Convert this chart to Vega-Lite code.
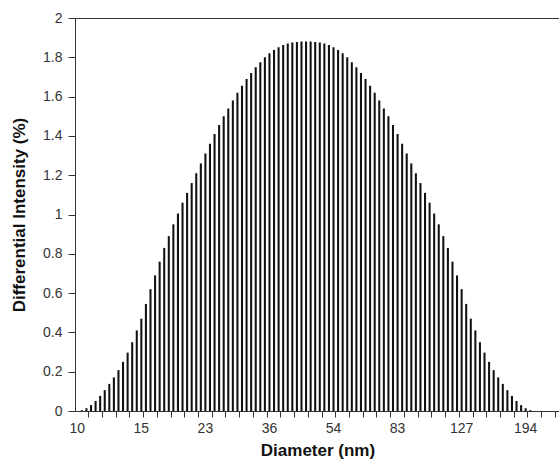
{
  "$schema": "https://vega.github.io/schema/vega-lite/v6.json",
  "width": 485,
  "height": 393,
  "autosize": "none",
  "padding": {"left": 75, "top": 18, "right": 0, "bottom": 54},
  "background": "white",
  "config": {
    "view": {"stroke": "#333333", "strokeWidth": 1},
    "font": "Liberation Sans",
    "axis": {
      "grid": false,
      "labelFont": "Liberation Sans",
      "titleFont": "Liberation Sans",
      "domainColor": "#333333",
      "tickColor": "#333333",
      "labelColor": "#333333",
      "titleColor": "#111111",
      "labelFontSize": 14,
      "titleFontSize": 17,
      "titleFontWeight": "bold"
    }
  },
  "data": {
    "values": [
      {"diameter": 10, "intensity": 0},
      {"diameter": 10.3, "intensity": 0.004},
      {"diameter": 10.6, "intensity": 0.014},
      {"diameter": 11.0, "intensity": 0.030},
      {"diameter": 11.3, "intensity": 0.051},
      {"diameter": 11.6, "intensity": 0.077},
      {"diameter": 12.0, "intensity": 0.106},
      {"diameter": 12.4, "intensity": 0.138},
      {"diameter": 12.7, "intensity": 0.171},
      {"diameter": 13.1, "intensity": 0.208},
      {"diameter": 13.5, "intensity": 0.250},
      {"diameter": 13.9, "intensity": 0.297},
      {"diameter": 14.4, "intensity": 0.350},
      {"diameter": 14.8, "intensity": 0.410},
      {"diameter": 15.3, "intensity": 0.470},
      {"diameter": 15.7, "intensity": 0.545},
      {"diameter": 16.2, "intensity": 0.620},
      {"diameter": 16.7, "intensity": 0.690},
      {"diameter": 17.2, "intensity": 0.760},
      {"diameter": 17.8, "intensity": 0.830},
      {"diameter": 18.3, "intensity": 0.890},
      {"diameter": 18.9, "intensity": 0.950},
      {"diameter": 19.5, "intensity": 1.005},
      {"diameter": 20.1, "intensity": 1.060},
      {"diameter": 20.7, "intensity": 1.110},
      {"diameter": 21.3, "intensity": 1.160},
      {"diameter": 22.0, "intensity": 1.210},
      {"diameter": 22.6, "intensity": 1.260},
      {"diameter": 23.3, "intensity": 1.310},
      {"diameter": 24.0, "intensity": 1.360},
      {"diameter": 24.8, "intensity": 1.410},
      {"diameter": 25.5, "intensity": 1.455},
      {"diameter": 26.3, "intensity": 1.500},
      {"diameter": 27.1, "intensity": 1.540},
      {"diameter": 28.0, "intensity": 1.580},
      {"diameter": 28.8, "intensity": 1.620},
      {"diameter": 29.7, "intensity": 1.655},
      {"diameter": 30.6, "intensity": 1.690},
      {"diameter": 31.6, "intensity": 1.720},
      {"diameter": 32.5, "intensity": 1.750},
      {"diameter": 33.5, "intensity": 1.775},
      {"diameter": 34.6, "intensity": 1.800},
      {"diameter": 35.6, "intensity": 1.820},
      {"diameter": 36.7, "intensity": 1.837},
      {"diameter": 37.9, "intensity": 1.851},
      {"diameter": 39.0, "intensity": 1.862},
      {"diameter": 40.2, "intensity": 1.870},
      {"diameter": 41.5, "intensity": 1.875},
      {"diameter": 42.7, "intensity": 1.878},
      {"diameter": 44.0, "intensity": 1.880},
      {"diameter": 45.4, "intensity": 1.881},
      {"diameter": 46.8, "intensity": 1.880},
      {"diameter": 48.2, "intensity": 1.878},
      {"diameter": 49.7, "intensity": 1.875},
      {"diameter": 51.2, "intensity": 1.870},
      {"diameter": 52.8, "intensity": 1.862},
      {"diameter": 54.4, "intensity": 1.851},
      {"diameter": 56.1, "intensity": 1.837},
      {"diameter": 57.8, "intensity": 1.820},
      {"diameter": 59.6, "intensity": 1.800},
      {"diameter": 61.4, "intensity": 1.775},
      {"diameter": 63.3, "intensity": 1.750},
      {"diameter": 65.3, "intensity": 1.720},
      {"diameter": 67.3, "intensity": 1.690},
      {"diameter": 69.3, "intensity": 1.655},
      {"diameter": 71.5, "intensity": 1.620},
      {"diameter": 73.7, "intensity": 1.580},
      {"diameter": 75.9, "intensity": 1.540},
      {"diameter": 78.3, "intensity": 1.500},
      {"diameter": 80.7, "intensity": 1.455},
      {"diameter": 83.1, "intensity": 1.410},
      {"diameter": 85.7, "intensity": 1.360},
      {"diameter": 88.3, "intensity": 1.310},
      {"diameter": 91.0, "intensity": 1.260},
      {"diameter": 93.8, "intensity": 1.210},
      {"diameter": 96.7, "intensity": 1.160},
      {"diameter": 99.7, "intensity": 1.110},
      {"diameter": 102.8, "intensity": 1.060},
      {"diameter": 105.9, "intensity": 1.005},
      {"diameter": 109.2, "intensity": 0.950},
      {"diameter": 112.5, "intensity": 0.890},
      {"diameter": 116.0, "intensity": 0.830},
      {"diameter": 119.5, "intensity": 0.760},
      {"diameter": 123.2, "intensity": 0.690},
      {"diameter": 127.0, "intensity": 0.620},
      {"diameter": 130.9, "intensity": 0.545},
      {"diameter": 134.9, "intensity": 0.470},
      {"diameter": 139.1, "intensity": 0.410},
      {"diameter": 143.3, "intensity": 0.350},
      {"diameter": 147.7, "intensity": 0.297},
      {"diameter": 152.3, "intensity": 0.250},
      {"diameter": 157.0, "intensity": 0.208},
      {"diameter": 161.8, "intensity": 0.171},
      {"diameter": 166.7, "intensity": 0.138},
      {"diameter": 171.9, "intensity": 0.106},
      {"diameter": 177.2, "intensity": 0.077},
      {"diameter": 182.6, "intensity": 0.051},
      {"diameter": 188.2, "intensity": 0.030},
      {"diameter": 194.0, "intensity": 0.014},
      {"diameter": 199.9, "intensity": 0.004},
      {"diameter": 206.1, "intensity": 0},
      {"diameter": 212.4, "intensity": 0},
      {"diameter": 218.9, "intensity": 0},
      {"diameter": 225.7, "intensity": 0},
      {"diameter": 232.6, "intensity": 0},
      {"diameter": 239.8, "intensity": 0}
    ]
  },
  "layer": [
    {
      "mark": {"type": "bar", "color": "#111111", "width": {"band": 0.45}},
      "encoding": {
        "x": {
          "field": "diameter",
          "type": "ordinal",
          "scale": {"paddingInner": 0, "paddingOuter": 0},
          "axis": {
            "orient": "bottom",
            "values": [11.0, 12.0, 13.1, 14.4, 15.7, 17.2, 18.9, 20.7, 22.6, 24.8, 27.1, 29.7, 32.5, 35.6, 39.0, 42.7, 46.8, 51.2, 56.1, 61.4, 67.3, 73.7, 80.7, 88.3, 96.7, 105.9, 116.0, 127.0, 139.1, 152.3, 166.7, 182.6, 199.9, 218.9, 239.8],
            "bandPosition": 0,
            "labels": false,
            "title": null,
            "tickSize": 6,
            "domain": true
          }
        },
        "y": {
          "field": "intensity",
          "type": "quantitative",
          "scale": {"domain": [0, 2], "nice": false},
          "axis": {
            "values": [0, 0.2, 0.4, 0.6, 0.8, 1, 1.2, 1.4, 1.6, 1.8, 2],
            "format": "~g",
            "tickSize": 7,
            "labelPadding": 6,
            "title": "Differential Intensity (%)",
            "titlePadding": 14
          }
        }
      }
    },
    {
      "mark": {"type": "bar", "opacity": 0, "width": {"band": 0.45}},
      "encoding": {
        "x": {
          "field": "diameter",
          "type": "ordinal",
          "axis": {
            "orient": "bottom",
            "values": [10, 15.3, 23.3, 35.6, 54.4, 83.1, 127.0, 194.0],
            "labelExpr": "format(datum.value, '.0f')",
            "ticks": false,
            "tickSize": 0,
            "domain": false,
            "labelPadding": 10,
            "labelAngle": 0,
            "labelAlign": "center",
            "labelBaseline": "top",
            "labelOverlap": false,
            "labelFlush": false,
            "labelBound": false,
            "title": "Diameter (nm)",
            "titlePadding": 7
          }
        }
      }
    }
  ],
  "resolve": {"axis": {"x": "independent"}}
}
